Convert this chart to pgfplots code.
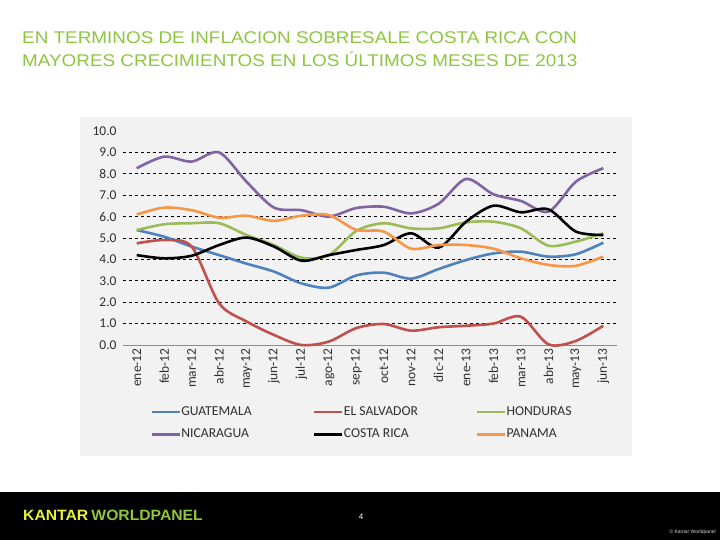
\documentclass[border=0pt]{standalone}
\usepackage{pgfplots}
\pgfplotsset{compat=1.18}
\usepackage{fontspec}
\setmainfont{Liberation Sans}
\newfontfamily\calfont{Carlito}
\definecolor{cgua}{HTML}{4F81BD}
\definecolor{csal}{HTML}{C0504D}
\definecolor{chon}{HTML}{9BBB59}
\definecolor{cnic}{HTML}{8064A2}
\definecolor{ccri}{HTML}{000000}
\definecolor{cpan}{HTML}{F79646}
\definecolor{titlegreen}{HTML}{8DC63F}
\definecolor{panel}{HTML}{F2F2F2}
\definecolor{kyellow}{HTML}{E6F23A}
\definecolor{tickgray}{HTML}{303030}

\pgfplotstableread{
i gua sal hon nic cri pan
0  5.37 4.75 5.37 8.26 4.20 6.10
1  5.06 4.90 5.64 8.80 4.05 6.42
2  4.60 4.60 5.69 8.57 4.17 6.30
3  4.20 1.95 5.69 9.00 4.67 5.95
4  3.80 1.10 5.14 7.63 5.02 6.04
5  3.43 0.47 4.67 6.42 4.60 5.80
6  2.88 0.00 4.08 6.30 3.94 6.04
7  2.68 0.16 4.20 6.00 4.20 6.07
8  3.25 0.79 5.33 6.40 4.44 5.38
9  3.38 0.98 5.69 6.46 4.67 5.30
10 3.10 0.67 5.45 6.15 5.22 4.50
11 3.55 0.83 5.45 6.60 4.55 4.67
12 3.97 0.90 5.73 7.76 5.76 4.67
13 4.28 1.00 5.76 7.04 6.51 4.50
14 4.36 1.32 5.45 6.73 6.20 4.05
15 4.13 0.03 4.64 6.23 6.34 3.74
16 4.24 0.19 4.83 7.63 5.30 3.70
17 4.78 0.90 5.22 8.26 5.14 4.13
}\datatable

\begin{document}
\begin{tikzpicture}
\begin{scope}[x=1bp,y=1bp]
\path[use as bounding box] (0,0) rectangle (720,540);
\fill[white] (0,0) rectangle (720,540);
\fill[black] (0,0) rectangle (720,48);
\fill[panel] (80,84) rectangle (632,423);
\node[anchor=base west,inner sep=0pt,text=titlegreen,font=\fontsize{17}{20}\selectfont,xscale=1.115] at (22,496) {EN TERMINOS DE INFLACION SOBRESALE COSTA RICA CON};
\node[anchor=base west,inner sep=0pt,text=titlegreen,font=\fontsize{17}{20}\selectfont,xscale=1.115] at (22,473.5) {MAYORES CRECIMIENTOS EN LOS ÚLTIMOS MESES DE 2013};
\node[anchor=base west,inner sep=0pt,font=\fontsize{15}{16}\selectfont,xscale=1.05] at (23,19) {\textcolor{kyellow}{\bfseries KANTAR}\hspace{3bp}\textcolor{titlegreen}{\bfseries WORLDPANEL}};
\node[anchor=base,inner sep=0pt,text=white,font=\fontsize{8}{9}\selectfont] at (361,20) {4};
\node[anchor=base east,inner sep=0pt,text=white!85!black,font=\fontsize{5}{6}\selectfont] at (716,6) {© Kantar Worldpanel};
\end{scope}

\begin{axis}[
  at={(123bp,195bp)}, anchor=south west,
  scale only axis, width=494bp, height=214bp,
  xmin=-0.5, xmax=17.5, ymin=0, ymax=10,
  axis lines*=left,
  x axis line style={draw=black!45, line width=0.8bp},
  y axis line style={draw=none},
  xtick={0,...,17},
  xticklabels={ene-12,feb-12,mar-12,abr-12,may-12,jun-12,jul-12,ago-12,sep-12,oct-12,nov-12,dic-12,ene-13,feb-13,mar-13,abr-13,may-13,jun-13},
  major x tick style={draw=none},
  extra x ticks={-0.5,0.5,...,17.5},
  extra x tick labels={},
  extra x tick style={major tick length=5bp, xtick align=outside, tick style={draw=black!45, line width=0.8bp}},
  ytick={0,1,...,10},
  yticklabel={\pgfmathprintnumber[fixed,fixed zerofill,precision=1]{\tick}},
  ytick style={draw=none},
  extra y ticks={1,...,9},
  extra y tick labels={},
  extra y tick style={grid=major, major grid style={dashed, black, line width=0.7bp}, tick style={draw=none}},
  xticklabel style={rotate=90, anchor=east, font=\calfont\fontsize{13.5}{15}\selectfont, text=tickgray, xshift=0bp},
  yticklabel style={font=\calfont\fontsize{13.5}{15}\selectfont, text=tickgray, xshift=-3bp},
  /pgf/number format/assume math mode=true,
  legend columns=3,
  legend cell align=left,
  legend style={at={(0.0547,-0.285)}, anchor=north west, draw=none, fill=none,
    font=\calfont\fontsize{13.7}{15}\selectfont, text=tickgray,
    /tikz/every even column/.append style={column sep=0bp},
    nodes={inner sep=0.5bp},
    row sep=11bp, inner sep=0pt},
  legend image code/.code={\draw[#1] (0bp,0bp) -- (28bp,0bp);},
  every axis plot/.append style={line width=2.6bp, smooth, no marks},
  clip=false,
]
\addplot[cgua] table[x=i,y=gua]{\datatable};
\addlegendentry{\makebox[131bp][l]{GUATEMALA}}
\addplot[csal] table[x=i,y=sal]{\datatable};
\addlegendentry{\makebox[131bp][l]{EL SALVADOR}}
\addplot[chon] table[x=i,y=hon]{\datatable};
\addlegendentry{HONDURAS}
\addplot[cnic] table[x=i,y=nic]{\datatable};
\addlegendentry{\makebox[131bp][l]{NICARAGUA}}
\addplot[ccri] table[x=i,y=cri]{\datatable};
\addlegendentry{\makebox[131bp][l]{COSTA RICA}}
\addplot[cpan] table[x=i,y=pan]{\datatable};
\addlegendentry{PANAMA}
\end{axis}
\end{tikzpicture}
\end{document}
